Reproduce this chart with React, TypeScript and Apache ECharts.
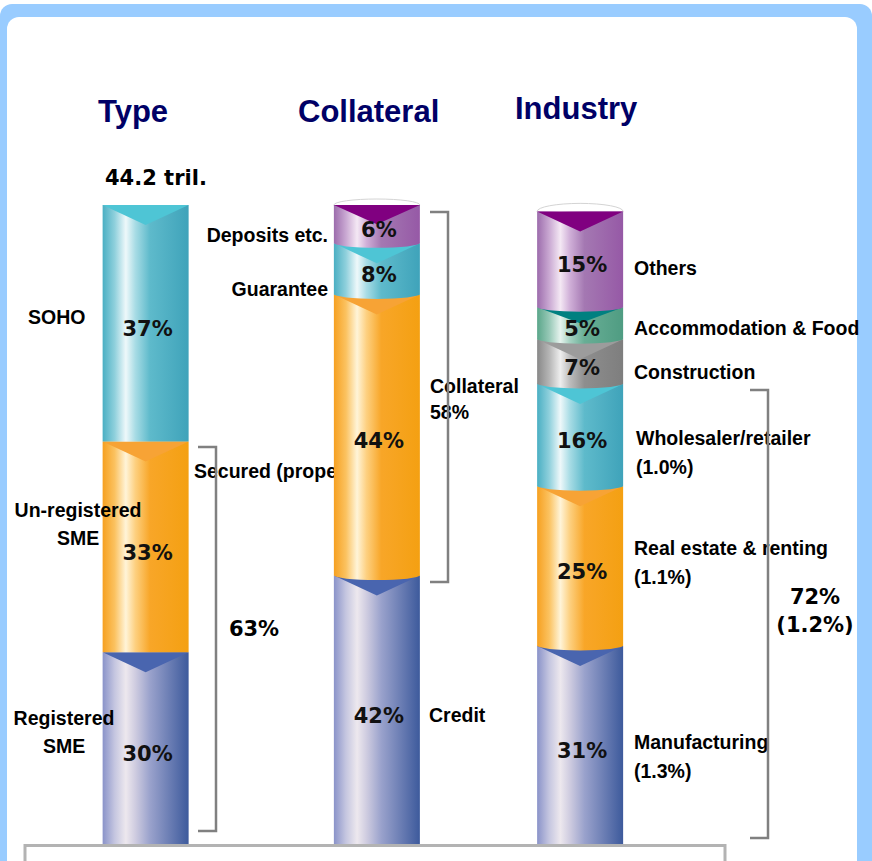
import React, { useEffect, useRef } from 'react';
import * as echarts from 'echarts';

// ---------- data ----------
const categories = ['Type', 'Collateral', 'Industry'];
const totalLabel = '44.2 tril.';
const typeNames = ['SOHO', 'Un-registered\nSME', 'Registered\nSME'];
const typeValues = [37, 33, 30];
const collateralNames = ['Deposits etc.', 'Guarantee', 'Collateral', 'Credit'];
const collateralValues = [6, 8, 44, 42];
const industryNames = ['Others', 'Accommodation & Food', 'Construction', 'Wholesaler/retailer', 'Real estate & renting', 'Manufacturing'];
const industryValues = [15, 5, 7, 16, 25, 31];
const industryRates = ['', '', '', '(1.0%)', '(1.1%)', '(1.3%)'];
const securedLabel = 'Secured (property)';
const securedShare = '63%';
const collateralShareLabel = 'Collateral\n58%';
const industryShare = '72%\n(1.2%)';

// ---------- styles ----------
type Pal = { stops: { offset: number; color: string }[]; tri: string };
const mk = (c: string[], tri: string): Pal => ({
  stops: [0, 0.14, 0.27, 0.38, 0.55, 1].map((o, i) => ({ offset: o, color: c[i] })),
  tri,
});
const PALETTE: Pal[] = [
  mk(['#4AAFC3', '#8FD0DC', '#EEF8FA', '#A8DCE5', '#5EBACB', '#3FA3BA'], '#4EC5D5'), // 0 cyan
  mk(['#F6A020', '#FBC260', '#FFF4D8', '#FDD080', '#F8A628', '#F4A012'], '#F7A335'), // 1 orange
  mk(['#8A93C9', '#C5C6E0', '#EDE8EE', '#CFCCE0', '#9AA2CC', '#3D5A9C'], '#4965AF'), // 2 blue
  mk(['#9C6CAC', '#C9A8D2', '#F4E8F4', '#D0B0D8', '#A478B2', '#9659A6'], '#800080'), // 3 purple
  mk(['#5AA68A', '#96C8B6', '#E6F3EE', '#A6D2C2', '#68AE95', '#4F9C82'], '#008080'), // 4 teal
  mk(['#888888', '#B5B5B5', '#EEEEEE', '#BDBDBD', '#8E8E8E', '#7E7E7E'], '#9C9C9C'), // 5 gray
];
const typeColors = [0, 1, 2];
const collateralColors = [3, 0, 1, 2];
const industryColors = [3, 4, 5, 0, 1, 2];
const X_SHIFT = [0, 14, 0];
const BAR_W = 86;

function buildStack(cat: number, values: number[], colors: number[]) {
  const items: number[][] = [];
  let base = 0;
  for (let i = values.length - 1; i >= 0; i--) {
    items.push([cat, base, base + values[i], values[i], i === 0 ? 1 : 0, colors[i]]);
    base += values[i];
  }
  return items;
}

const seriesData = [
  ...buildStack(0, typeValues, typeColors),
  ...buildStack(1, collateralValues, collateralColors),
  ...buildStack(2, industryValues, industryColors),
];

const LBL = 'bold 19.5px "Liberation Sans", Arial, sans-serif';
const PCT = 'bold 21px "DejaVu Sans", sans-serif';
const TTL = 'bold 31px "Liberation Sans", Arial, sans-serif';

function txt(text: string, x: number, y: number, align: string, font: string, z = 10, fill = '#000', lineHeight = 28) {
  return {
    type: 'text',
    z,
    x,
    y,
    style: { text, font, fill, align, textAlign: align, verticalAlign: 'middle', textVerticalAlign: 'middle', lineHeight },
  };
}

function bracket(x0: number, x1: number, y0: number, y1: number) {
  return {
    type: 'polyline',
    z: 4,
    shape: { points: [[x0, y0], [x1, y0], [x1, y1], [x0, y1]] },
    style: { stroke: '#808080', lineWidth: 2.5, fill: 'none' },
  };
}

export default function App() {
  const ref = useRef<HTMLDivElement>(null);
  useEffect(() => {
    if (!ref.current) return;
    const chart = echarts.init(ref.current, undefined, { renderer: 'svg' });

    const renderItem = (params: any, api: any) => {
      const cat = api.value(0);
      const base = api.value(1);
      const top = api.value(2);
      const v = api.value(3);
      const isTop = api.value(4);
      const pal = PALETTE[api.value(5)];
      const pB = api.coord([cat, base]);
      const pT = api.coord([cat, top]);
      const cx = pB[0] + X_SHIFT[cat];
      const x0 = cx - BAR_W / 2;
      const x1 = cx + BAR_W / 2;
      const yT = pT[1];
      const yB = pB[1];
      const h = yB - yT;
      const grad = new echarts.graphic.LinearGradient(0, 0, 1, 0, pal.stops);
      const round = cat > 0;
      const rx = BAR_W / 2;
      const children: any[] = [];
      if (isTop && round) {
        const ry = cat === 1 ? 6 : 8;
        children.push({
          type: 'path',
          shape: { pathData: `M${x0} ${yT} A${rx} ${ry} 0 1 0 ${x1} ${yT} A${rx} ${ry} 0 1 0 ${x0} ${yT} Z` },
          style: { fill: '#ffffff', stroke: '#d4d4d4', lineWidth: 1 },
        });
      }
      children.push({ type: 'rect', shape: { x: x0, y: yT, width: BAR_W, height: h }, style: { fill: grad } });
      if (round && base > 0) {
        children.push({
          type: 'path',
          shape: { pathData: `M${x0} ${yB - 0.5} A${rx} 5 0 0 0 ${x1} ${yB - 0.5} Z` },
          style: { fill: grad },
        });
      }
      const d = Math.min(20, h * 0.5);
      children.push({ type: 'polygon', shape: { points: [[x0, yT], [x1, yT], [cx, yT + d]] }, style: { fill: pal.tri } });
      children.push({
        type: 'text',
        style: { text: v + '%', x: cx + 2, y: (yT + yB) / 2 + 6, align: 'center', verticalAlign: 'middle', font: PCT, fill: '#111' },
      });
      return { type: 'group', children };
    };

    const graphic: any[] = [
      { type: 'rect', z: -5, shape: { x: 0, y: 4, width: 872, height: 900, r: 12 }, style: { fill: '#99CCFF' } },
      { type: 'rect', z: -4, shape: { x: 7, y: 17, width: 850, height: 900, r: 12 }, style: { fill: '#ffffff' } },
      txt(categories[0], 98, 111, 'left', TTL, 10, '#000066'),
      txt(categories[1], 298, 111, 'left', TTL, 10, '#000066'),
      txt(categories[2], 515, 108, 'left', TTL, 10, '#000066'),
      txt(totalLabel, 105, 178, 'left', PCT),
      // Type
      txt(typeNames[0], 28, 317, 'left', LBL),
      txt(typeNames[1], 78, 524, 'center', LBL),
      txt(typeNames[2], 64, 732, 'center', LBL),
      txt(securedLabel, 194, 471, 'left', LBL, 1),
      bracket(198, 216, 447, 831),
      txt(securedShare, 254, 629, 'center', PCT),
      // Collateral
      txt(collateralNames[0], 328, 235, 'right', LBL),
      txt(collateralNames[1], 328, 289, 'right', LBL),
      txt(collateralNames[3], 429, 715, 'left', LBL),
      bracket(430, 448, 212, 582),
      txt(collateralShareLabel, 430, 399, 'left', LBL, 3, '#000', 26),
      // Industry
      txt(industryNames[0], 634, 268, 'left', LBL),
      txt(industryNames[1], 634, 328, 'left', LBL),
      txt(industryNames[2], 634, 372, 'left', LBL),
      txt(industryNames[3] + '\n' + industryRates[3], 636, 452, 'left', LBL, 3, '#000', 29),
      txt(industryNames[4] + '\n' + industryRates[4], 634, 562, 'left', LBL, 3, '#000', 29),
      txt(industryNames[5] + '\n' + industryRates[5], 634, 756, 'left', LBL, 3, '#000', 29),
      bracket(750, 768, 390, 838),
      txt(industryShare, 815, 611, 'center', PCT, 10, '#000', 28),
      // bottom box
      { type: 'rect', z: 6, shape: { x: 25, y: 845.5, width: 700, height: 40 }, style: { fill: 'none', stroke: '#B3B3B3', lineWidth: 3 } },
    ];

    chart.setOption({
      animation: false,
      backgroundColor: '#ffffff',
      grid: { left: 37, right: 183.25, top: 205, bottom: 17 },
      xAxis: { type: 'category', data: categories, show: false },
      yAxis: { type: 'value', min: 0, max: 100, show: false },
      graphic: { elements: graphic },
      series: [
        {
          type: 'custom',
          z: 2,
          renderItem,
          data: seriesData,
          encode: { x: 0, y: [1, 2] },
          clip: false,
        },
      ],
    });
    return () => chart.dispose();
  }, []);
  return <div ref={ref} style={{ position: 'fixed', left: 0, top: 0, width: 872, height: 861 }} />;
}
